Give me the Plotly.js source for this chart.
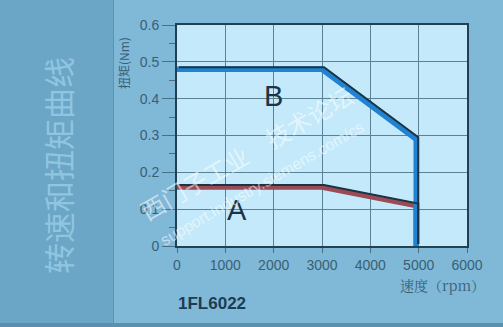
<!DOCTYPE html>
<html><head><meta charset="utf-8">
<script src="https://cdn.plot.ly/plotly-3.0.1.min.js"></script>
<style>html,body{margin:0;padding:0;background:#80b8d8;}#c{width:503px;height:327px;}</style>
</head><body><div id="c"></div>
<script>
// Data
const speedB = [0, 3000, 4950, 4950];
const torqueB = [0.48, 0.48, 0.29, 0];
const speedA = [0, 3000, 4950, 4950];
const torqueA = [0.16, 0.16, 0.11, 0];
const xTicks = [0, 1000, 2000, 3000, 4000, 5000, 6000];
const yTicks = [0, 0.1, 0.2, 0.3, 0.4, 0.5, 0.6];
const yTickLabels = ['0', '0.1', '0.2', '0.3', '0.4', '0.5', '0.6'];

const W = 503, H = 327, L = 177, R = 36, T = 25, B = 81;
const pw = W - L - R, ph = H - T - B;
const xr = [0, 6000], yr = [0, 0.6];
const sh = 2; // px offset of dark outline
const dx = sh * (xr[1] - xr[0]) / pw, dy = sh * (yr[1] - yr[0]) / ph;
const px = v => (v - L) / pw, py = v => 1 - (v - T) / ph;

const tickCol = '#3a5f74';
const traces = [
  {x: speedA, y: torqueA, mode: 'lines', line: {color: '#9b4b56', width: 5.5}, xaxis: 'x', yaxis: 'y', hoverinfo: 'skip'},
  {x: speedB, y: torqueB, mode: 'lines', line: {color: '#1f82d2', width: 5.5}, xaxis: 'x', yaxis: 'y', hoverinfo: 'skip'},
  {x: speedA, y: torqueA, mode: 'lines', line: {color: '#1b3443', width: 2}, xaxis: 'x2', yaxis: 'y2', hoverinfo: 'skip'},
  {x: speedB, y: torqueB, mode: 'lines', line: {color: '#1b3443', width: 2}, xaxis: 'x2', yaxis: 'y2', hoverinfo: 'skip'}
];

function ann(text, x, y, font, extra) {
  return Object.assign({text: text, xref: 'paper', yref: 'paper', x: px(x), y: py(y), showarrow: false,
    xanchor: 'center', yanchor: 'middle', font: font}, extra || {});
}

const layout = {
  width: W, height: H,
  margin: {l: L, r: R, t: T, b: B, pad: 0},
  paper_bgcolor: '#80b8d8',
  plot_bgcolor: 'rgba(0,0,0,0)',
  showlegend: false,
  font: {family: 'Liberation Sans, Arial, sans-serif', color: tickCol},
  xaxis: {
    range: xr, tickvals: xTicks, ticks: 'outside', ticklen: 5, tickcolor: '#4a6f82',
    showgrid: true, gridcolor: '#5b8294', gridwidth: 1,
    showline: true, linecolor: '#22404f', linewidth: 2, mirror: true,
    zeroline: false, tickfont: {size: 14, color: tickCol}, fixedrange: true
  },
  yaxis: {
    range: yr, tickvals: yTicks, ticktext: yTickLabels, ticks: 'outside', ticklen: 13, tickcolor: '#4a6f82',
    minor: {dtick: 0.05, ticks: 'outside', ticklen: 6, tickcolor: '#4a6f82', showgrid: false},
    showgrid: true, gridcolor: '#5b8294', gridwidth: 1,
    showline: true, linecolor: '#22404f', linewidth: 2, mirror: true,
    zeroline: false, tickfont: {size: 14, color: tickCol}, fixedrange: true
  },
  xaxis2: {range: [xr[0] - dx, xr[1] - dx], anchor: 'y2', visible: false, showgrid: false, zeroline: false, fixedrange: true},
  yaxis2: {range: [yr[0] - dy, yr[1] - dy], anchor: 'x2', visible: false, showgrid: false, zeroline: false, fixedrange: true},
  shapes: [
    {type: 'rect', xref: 'paper', yref: 'paper', x0: 0, x1: 1, y0: 0, y1: 1, fillcolor: '#c3e9fa', line: {width: 0}, layer: 'below'},
    {type: 'rect', xref: 'paper', yref: 'paper', x0: px(0), x1: px(113), y0: py(323), y1: py(0), fillcolor: '#6ca6c7', line: {width: 0}, layer: 'below'},
    {type: 'line', xref: 'paper', yref: 'paper', x0: px(113.5), x1: px(113.5), y0: py(323), y1: py(0), line: {color: '#5d93b2', width: 1}, layer: 'below'},
    {type: 'rect', xref: 'paper', yref: 'paper', x0: px(0), x1: px(503), y0: py(327), y1: py(323), fillcolor: '#5a8fae', line: {width: 0}, layer: 'below'}
  ],
  annotations: [
    ann('转速和扭矩曲线', 57, 166, {family: 'Noto Sans CJK SC', size: 31, color: '#90c5e0'}, {textangle: -90}),
    ann('扭矩(Nm)', 123, 63, {family: 'Noto Sans CJK SC', size: 12, color: tickCol}, {textangle: -90}),
    ann('速度（rpm）', 442, 285, {family: 'Noto Serif CJK SC, Noto Sans CJK SC', size: 14, color: tickCol}),
    ann('<b>1FL6022</b>', 212, 303, {family: 'Liberation Sans, Arial, sans-serif', size: 17, color: '#1d3c52'}),
    ann('B', 273, 96, {family: 'Liberation Sans, Arial, sans-serif', size: 29, color: '#1e3444'}),
    ann('A', 237, 210, {family: 'Liberation Sans, Arial, sans-serif', size: 29, color: '#1e3444'}),
    ann('西门子工业　技术论坛', 246, 152, {family: 'Noto Sans CJK SC', size: 24, color: 'rgba(255,255,255,0.55)'}, {textangle: -30}),
    ann('support.industry.siemens.com/cs', 262, 183, {family: 'Liberation Sans, Arial, sans-serif', size: 16, color: 'rgba(255,255,255,0.55)'}, {textangle: -30})
  ]
};
Plotly.newPlot('c', traces, layout, {displayModeBar: false, staticPlot: true});
</script></body></html>
